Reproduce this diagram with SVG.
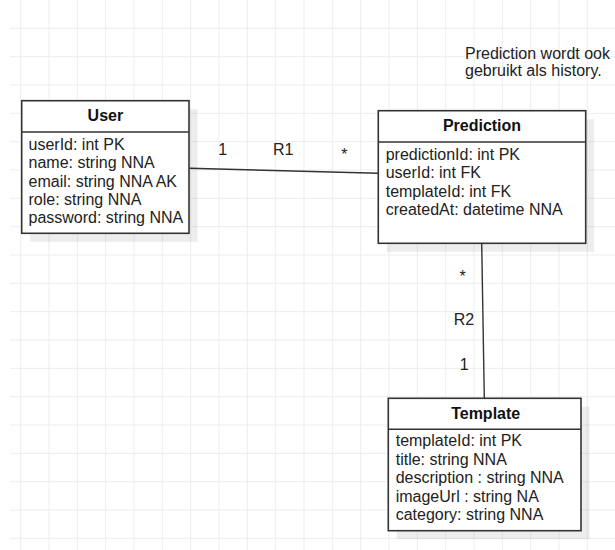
<svg xmlns="http://www.w3.org/2000/svg" width="615" height="550" viewBox="0 0 615 550">
  <style>
    .grid { stroke: #ededed; stroke-width: 1; fill: none; }
    .shadow { fill: #000; fill-opacity: 0.07; }
    .box { fill: #fff; stroke: #333; stroke-width: 1.6; }
    .sep { stroke: #333; stroke-width: 1.6; }
    .title { font-family: "Liberation Sans", Arial, sans-serif; font-size: 16px; font-weight: bold; fill: #111; text-anchor: middle; }
    .attr { font-family: "Liberation Sans", Arial, sans-serif; font-size: 16px; fill: #222; }
    .lbl { font-family: "Liberation Sans", Arial, sans-serif; font-size: 16px; fill: #222; text-anchor: middle; }
    .note { font-family: "Liberation Sans", Arial, sans-serif; font-size: 16px; fill: #222; }
    .conn { stroke: #333; stroke-width: 1.4; fill: none; }
  </style>

  <rect width="615" height="550" fill="#fff"/>

  <!-- background grid -->
  <path class="grid" d="
    M20.7 0V550 M49 0V550 M77.3 0V550 M105.7 0V550 M134 0V550 M162.3 0V550 M190.7 0V550
    M219 0V550 M247.3 0V550 M275.7 0V550 M304 0V550 M332.3 0V550 M360.7 0V550 M389 0V550
    M417.3 0V550 M445.7 0V550 M474 0V550 M502.3 0V550 M530.7 0V550 M559 0V550 M587.3 0V550
    M10 28.3H615 M10 56.7H615 M10 85H615 M10 113.3H615 M10 141.7H615 M10 170H615 M10 198.3H615
    M10 226.7H615 M10 255H615 M10 283.3H615 M10 311.7H615 M10 340H615 M10 368.3H615 M10 396.7H615
    M10 425H615 M10 453.3H615 M10 481.7H615 M10 510H615 M10 538.3H615"/>

  <!-- note -->
  <g id="note">
    <text class="note" x="465" y="59">Prediction wordt ook</text>
    <text class="note" x="465" y="75.5">gebruikt als history.</text>
  </g>

  <!-- relationships -->
  <g id="connectors">
    <g id="R1">
      <line class="conn" x1="189.5" y1="168.3" x2="378.3" y2="173.3"/>
      <text class="lbl" x="222.7" y="155">1</text>
      <text class="lbl" x="283.3" y="155">R1</text>
      <text class="lbl" x="344.3" y="160">*</text>
    </g>
    <g id="R2">
      <line class="conn" x1="481.7" y1="243.3" x2="484.3" y2="398.3"/>
      <text class="lbl" x="462.7" y="282">*</text>
      <text class="lbl" x="464" y="325">R2</text>
      <text class="lbl" x="464.3" y="370">1</text>
    </g>
  </g>

  <!-- entity: User -->
  <g id="User">
    <rect class="shadow" x="30.2" y="109.2" width="167.3" height="132.6"/>
    <rect class="box" x="21.7" y="100.7" width="167.3" height="132.6"/>
    <line class="sep" x1="21.7" y1="132" x2="189" y2="132"/>
    <text class="title" x="105.4" y="121">User</text>
    <text class="attr" x="28.5" y="150">userId: int PK</text>
    <text class="attr" x="28.5" y="168.3">name: string NNA</text>
    <text class="attr" x="28.5" y="186.5">email: string NNA AK</text>
    <text class="attr" x="28.5" y="204.7">role: string NNA</text>
    <text class="attr" x="28.5" y="223">password: string NNA</text>
  </g>

  <!-- entity: Prediction -->
  <g id="Prediction">
    <rect class="shadow" x="386.8" y="119.2" width="207.4" height="132.6"/>
    <rect class="box" x="378.3" y="110.7" width="207.4" height="132.6"/>
    <line class="sep" x1="378.3" y1="142" x2="585.7" y2="142"/>
    <text class="title" x="482" y="131">Prediction</text>
    <text class="attr" x="385.7" y="159.5">predictionId: int PK</text>
    <text class="attr" x="385.7" y="178">userId: int FK</text>
    <text class="attr" x="385.7" y="196.5">templateId: int FK</text>
    <text class="attr" x="385.7" y="215">createdAt: datetime NNA</text>
  </g>

  <!-- entity: Template -->
  <g id="Template">
    <rect class="shadow" x="396.8" y="406.8" width="192.7" height="132.4"/>
    <rect class="box" x="388.3" y="398.3" width="192.7" height="132.4"/>
    <line class="sep" x1="388.3" y1="429.3" x2="581" y2="429.3"/>
    <text class="title" x="485.7" y="418.5">Template</text>
    <text class="attr" x="395.7" y="446">templateId: int PK</text>
    <text class="attr" x="395.7" y="464.5">title: string NNA</text>
    <text class="attr" x="395.7" y="483">description : string NNA</text>
    <text class="attr" x="395.7" y="501.5">imageUrl : string NA</text>
    <text class="attr" x="395.7" y="520">category: string NNA</text>
  </g>
</svg>
